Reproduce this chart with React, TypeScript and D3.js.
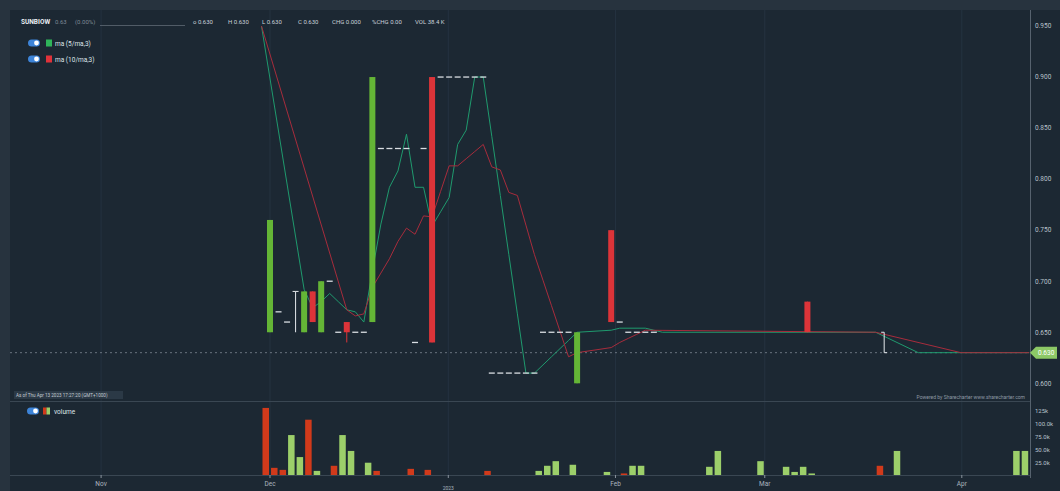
import React from "react";
import * as d3 from "d3";

// x positions are trading sessions counted from the first December session
const monthTicks: [string, number][] = [
  ["Nov", -19.8],
  ["Dec", 0],
  ["2023", 20.9],
  ["Feb", 40.5],
  ["Mar", 58],
  ["Apr", 81.1],
];

const priceTicks = [0.95, 0.9, 0.85, 0.8, 0.75, 0.7, 0.65, 0.6];
const volumeTicks: [number, string][] = [
  [125000, "125k"],
  [100000, "100.0k"],
  [75000, "75.0k"],
  [50000, "50.0k"],
  [25000, "25.0k"],
];

const lastPrice = 0.63;

// [session, open, high, low, close]
const candles: [number, number, number, number, number][] = [
  [0, 0.65, 0.76, 0.65, 0.76],
  [4, 0.65, 0.69, 0.65, 0.69],
  [5, 0.69, 0.69, 0.66, 0.66],
  [6, 0.65, 0.7, 0.65, 0.7],
  [9, 0.66, 0.66, 0.64, 0.65],
  [12, 0.66, 0.9, 0.66, 0.9],
  [19, 0.9, 0.9, 0.64, 0.64],
  [36, 0.6, 0.65, 0.6, 0.65],
  [40, 0.75, 0.75, 0.66, 0.66],
  [63, 0.68, 0.68, 0.65, 0.65],
];

// sessions where open = high = low = close
const dojis: [number, number][] = [
  [1, 0.67], [2, 0.66], [7, 0.7], [8, 0.65], [10, 0.65], [11, 0.65],
  [13, 0.83], [14, 0.83], [15, 0.83], [16, 0.83], [17, 0.64], [18, 0.83],
  [20, 0.9], [21, 0.9], [22, 0.9], [23, 0.9], [24, 0.9], [25, 0.9],
  [26, 0.61], [27, 0.61], [28, 0.61], [29, 0.61], [30, 0.61], [31, 0.61],
  [32, 0.65], [33, 0.65], [34, 0.65], [35, 0.65],
  [41, 0.66], [42, 0.65], [43, 0.65], [44, 0.65], [45, 0.65],
];

// unchanged bars drawn as white OHLC ticks: [session, open, high, low, close]
const flatBars: [number, number, number, number, number][] = [
  [3, 0.69, 0.69, 0.65, 0.69],
  [72, 0.65, 0.65, 0.63, 0.63],
];

const ma5: [number, number][] = [
  [-1, 0.95], [4, 0.692], [5, 0.674], [6, 0.68], [7, 0.688], [8, 0.68],
  [9, 0.672], [10, 0.67], [11, 0.66], [12, 0.71], [13, 0.756], [14, 0.792],
  [15, 0.808], [16, 0.844], [17, 0.792], [18, 0.792], [19, 0.754], [20, 0.768],
  [21, 0.782], [22, 0.834], [23, 0.848], [24, 0.9], [25, 0.9], [26, 0.842],
  [27, 0.784], [28, 0.726], [29, 0.668], [30, 0.61], [31, 0.61], [32, 0.618],
  [33, 0.626], [34, 0.634], [35, 0.642], [36, 0.65], [40, 0.652], [41, 0.654],
  [44, 0.654], [45, 0.652], [46, 0.65], [71, 0.65], [76, 0.63], [89, 0.63],
];

const ma10: [number, number][] = [
  [-1, 0.95], [9, 0.672], [10, 0.666], [11, 0.668], [12, 0.694], [13, 0.708],
  [14, 0.722], [15, 0.739], [16, 0.752], [17, 0.746], [18, 0.764], [19, 0.763],
  [20, 0.788], [21, 0.813], [22, 0.813], [23, 0.82], [24, 0.827], [25, 0.834],
  [26, 0.812], [27, 0.809], [28, 0.787], [29, 0.784], [30, 0.755], [31, 0.726],
  [32, 0.701], [33, 0.676], [34, 0.651], [35, 0.626], [36, 0.63], [40, 0.635],
  [41, 0.64], [42, 0.644], [43, 0.648], [44, 0.652], [71, 0.65], [81, 0.63],
  [89, 0.63],
];

// [session, volume, up vs previous close]
const volumes: [number, number, boolean][] = [
  [0, 131000, false], [1, 14000, false], [2, 10000, false], [3, 78000, true],
  [4, 35000, true], [5, 108000, false], [6, 8000, true], [8, 18000, false],
  [9, 78000, true], [10, 47000, true], [12, 24000, true], [13, 8000, false],
  [17, 12000, false], [19, 10000, false], [26, 8000, false], [32, 8000, true],
  [33, 18000, true], [34, 27000, true], [36, 20000, true], [40, 6000, true],
  [42, 3000, false], [43, 18000, true], [44, 18000, true], [52, 16000, true],
  [53, 47000, true], [58, 27000, true], [61, 16000, true], [62, 6000, true],
  [63, 16000, true], [64, 3000, true], [72, 18000, false], [74, 47000, true],
  [88, 47000, true], [89, 47000, true],
];

const headerStats: [string, number][] = [
  ["o 0.630", 193],
  ["H 0.630", 228],
  ["L 0.630", 262],
  ["C 0.630", 298],
  ["CHG 0.000", 332],
  ["%CHG 0.00", 372],
  ["VOL 38.4 K", 415],
];

const W = 1060;
const H = 491;
const left = 10;
const axisX = 1030;
const mainBottom = 401;
const volBottom = 475;
const font = "Roboto, 'DejaVu Sans', sans-serif";

const green = "#64b536";
const red = "#dc3439";
const volGreen = "#9ccf6a";
const volRed = "#d13a1b";
const maGreen = "#1f9a6e";
const maRed = "#a72c3c";

const fmt = d3.format(".3f");

function Toggle({ x, y }: { x: number; y: number }) {
  return (
    <g>
      <rect x={x} y={y} width={12} height={7} rx={3.5} fill="#3d84d8" />
      <circle cx={x + 8.5} cy={y + 3.5} r={2.4} fill="#ffffff" />
    </g>
  );
}

export default function App() {
  const xs = d3.scaleLinear().domain([0, 89]).range([270, 1029.2]);
  const ys = d3.scaleLinear().domain([0.6, 0.95]).range([383.3, 26]);
  const vs = d3.scaleLinear().domain([0, 125000]).range([volBottom, 411]);

  const line = d3
    .line<[number, number]>()
    .x((d) => xs(d[0]))
    .y((d) => ys(d[1]));

  const cw = 6;

  return (
    <svg
      width={W}
      height={H}
      style={{ position: "absolute", left: 0, top: 0, display: "block" }}
      fontFamily={font}
    >
      {/* frame and panels */}
      <rect x={0} y={0} width={W} height={H} fill="#27333e" />
      <rect x={left} y={10} width={W - left} height={H - 10} fill="#1c2833" />

      {/* vertical grid at month boundaries */}
      {monthTicks.map(([m, t]) => (
        <line
          key={"g" + m}
          x1={xs(t)}
          x2={xs(t)}
          y1={10}
          y2={volBottom}
          stroke="#243240"
          strokeWidth={1}
        />
      ))}

      {/* panel borders */}
      <line x1={left} x2={axisX} y1={mainBottom + 0.5} y2={mainBottom + 0.5} stroke="#3a4753" />
      <line x1={left} x2={axisX} y1={volBottom + 0.5} y2={volBottom + 0.5} stroke="#3a4753" />
      <line x1={axisX + 0.5} x2={axisX + 0.5} y1={10} y2={478} stroke="#56626e" />

      {/* header */}
      <text x={21} y={24} fontSize={6.5} fontWeight="bold" fill="#e8edf2">
        SUNBIOW
      </text>
      <text x={55} y={24} fontSize={6} fill="#7f8a95">
        0.63
      </text>
      <text x={75} y={24} fontSize={6} fill="#7f8a95">
        (0.00%)
      </text>
      <line x1={100} x2={185} y1={25.5} y2={25.5} stroke="#5f6a75" strokeWidth={0.8} />
      {headerStats.map(([s, x]) => (
        <text key={s} x={x} y={24} fontSize={6} fill="#c9d1d9">
          {s}
        </text>
      ))}

      {/* legend */}
      <Toggle x={28} y={39.5} />
      <rect x={46} y={39.5} width={6} height={7} fill="#2fb55a" />
      <text x={55} y={45.5} fontSize={6.5} fill="#dfe5ea">
        ma (5/ma,3)
      </text>
      <Toggle x={28} y={55.5} />
      <rect x={46} y={55.5} width={6} height={7} fill="#e0323a" />
      <text x={55} y={61.5} fontSize={6.5} fill="#dfe5ea">
        ma (10/ma,3)
      </text>

      {/* price axis */}
      {priceTicks.map((p) => (
        <text key={p} x={1035} y={ys(p) + 2.3} fontSize={6.5} fill="#b8c1ca">
          {fmt(p)}
        </text>
      ))}

      {/* last price line */}
      <line
        x1={left}
        x2={axisX}
        y1={ys(lastPrice)}
        y2={ys(lastPrice)}
        stroke="#7d8893"
        strokeWidth={0.8}
        strokeDasharray="2,3"
      />

      {/* moving averages */}
      <path d={line(ma5) || ""} fill="none" stroke={maGreen} strokeWidth={1} />
      <path d={line(ma10) || ""} fill="none" stroke={maRed} strokeWidth={1} />

      {/* doji dashes */}
      {dojis.map(([t, p]) => (
        <line
          key={"d" + t}
          x1={xs(t) - cw / 2}
          x2={xs(t) + cw / 2}
          y1={ys(p)}
          y2={ys(p)}
          stroke="#d9dee3"
          strokeWidth={1.3}
        />
      ))}

      {/* flat bars */}
      {flatBars.map(([t, o, h, l, c]) => (
        <g key={"f" + t} stroke="#e4e8ec" strokeWidth={1}>
          <line x1={xs(t)} x2={xs(t)} y1={ys(h)} y2={ys(l)} />
          <line x1={xs(t) - 3} x2={xs(t)} y1={ys(o)} y2={ys(o)} />
          <line x1={xs(t)} x2={xs(t) + 3} y1={ys(c)} y2={ys(c)} />
        </g>
      ))}

      {/* candles */}
      {candles.map(([t, o, h, l, c]) => {
        const col = c >= o ? green : red;
        return (
          <g key={"c" + t}>
            <line x1={xs(t)} x2={xs(t)} y1={ys(h)} y2={ys(l)} stroke={col} strokeWidth={1} />
            <rect
              x={xs(t) - cw / 2}
              y={ys(Math.max(o, c))}
              width={cw}
              height={Math.max(1, ys(Math.min(o, c)) - ys(Math.max(o, c)))}
              fill={col}
            />
          </g>
        );
      })}

      {/* last price tag */}
      <polygon
        points={`${axisX},${ys(lastPrice)} ${axisX + 6},${ys(lastPrice) - 6} ${axisX + 27},${ys(lastPrice) - 6} ${axisX + 27},${ys(lastPrice) + 6} ${axisX + 6},${ys(lastPrice) + 6}`}
        fill="#8cc866"
      />
      <text x={axisX + 8} y={ys(lastPrice) + 2.3} fontSize={6.5} fill="#ffffff">
        {fmt(lastPrice)}
      </text>

      {/* footer notes of main panel */}
      <rect x={14} y={391} width={109} height={8} fill="#2b3946" />
      <text x={16} y={397} fontSize={4.6} fill="#c3cbd2">
        As of Thu Apr 13 2023 17:27:20 (GMT+1000)
      </text>
      <text x={1025} y={399} fontSize={5} fill="#8e99a4" textAnchor="end">
        Powered by Sharecharter www.sharecharter.com
      </text>

      {/* volume panel */}
      <Toggle x={27} y={407.5} />
      <rect x={43} y={407.5} width={3.5} height={7} fill={volRed} />
      <rect x={46.5} y={407.5} width={3.5} height={7} fill={volGreen} />
      <text x={54} y={413.5} fontSize={6.5} fill="#dfe5ea">
        volume
      </text>
      {volumes.map(([t, v, up]) => (
        <rect
          key={"v" + t}
          x={xs(t) - 7.5}
          y={vs(v)}
          width={6.5}
          height={volBottom - vs(v)}
          fill={up ? volGreen : volRed}
        />
      ))}
      {volumeTicks.map(([v, s]) => (
        <text key={s} x={1035} y={vs(v) + 2.3} fontSize={6} fill="#b8c1ca">
          {s}
        </text>
      ))}

      {/* time axis */}
      {monthTicks.map(([m, t], i) => (
        <g key={"t" + m}>
          <line x1={xs(t)} x2={xs(t)} y1={volBottom} y2={volBottom + 3} stroke="#8a949e" />
          <text
            x={xs(t)}
            y={i === 2 ? 489.5 : 486}
            fontSize={i === 2 ? 5 : 6.5}
            fill="#aab4be"
            textAnchor="middle"
          >
            {m}
          </text>
        </g>
      ))}
    </svg>
  );
}
